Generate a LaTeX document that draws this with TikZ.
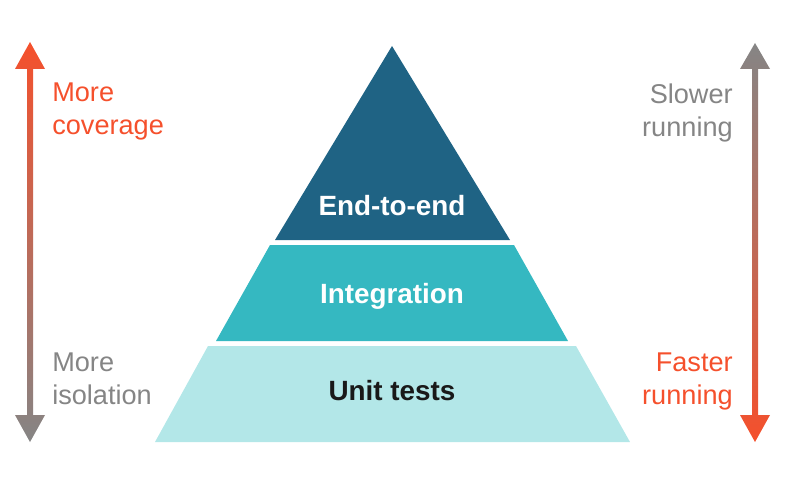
\documentclass[tikz,border=0pt]{standalone}
\usepackage{fontspec}
\setmainfont{Liberation Sans}
\definecolor{hotred}{HTML}{F5502C}
\definecolor{slowgray}{HTML}{858585}
\definecolor{topblue}{HTML}{1F6384}
\definecolor{midteal}{HTML}{35B8C1}
\definecolor{lowteal}{HTML}{B3E7E8}
\begin{document}
\begin{tikzpicture}[x=0.025cm,y=-0.025cm,
  side/.style={inner sep=0pt,font=\fontsize{19.3}{23.4}\selectfont},
  layer/.style={inner sep=0pt,anchor=base,font=\fontsize{19.8}{24}\selectfont\bfseries}]
  \useasboundingbox (0,0) rectangle (800,486);
  % the three layers
  \fill[topblue] (392,46) -- (510,240) -- (275,240) -- cycle;
  \fill[midteal] (270,245) -- (514,245) -- (568,341) -- (216,341) -- cycle;
  \fill[lowteal] (208,346) -- (576,346) -- (630,442) -- (155,442) -- cycle;
  \node[layer,text=white] (e2e) at (392,215) {End-to-end};
  \node[layer,text=white] (integ) at (392,303) {Integration};
  \node[layer,text=black!90] (unit) at (392,400) {Unit tests};
  % side arrows
  \shade[top color=hotred,bottom color=slowgray]
    (30,42) -- (45,69) -- (33,69) -- (33,415) -- (45,415) -- (30,442)
    -- (15,415) -- (27,415) -- (27,69) -- (15,69) -- cycle;
  \shade[top color=slowgray,bottom color=hotred]
    (755,43) -- (770,69) -- (758,69) -- (758,415) -- (770,415) -- (755,442)
    -- (740,415) -- (752,415) -- (752,69) -- (740,69) -- cycle;
  \node[side,text=hotred,align=left,anchor=north west] (cover) at (52,83) {More\\coverage};
  \node[side,text=slowgray,align=left,anchor=north west] (isol) at (52,353) {More\\isolation};
  \node[side,text=slowgray,align=right,anchor=north east] (slow) at (733,84) {Slower\\running};
  \node[side,text=hotred,align=right,anchor=north east] (fast) at (733,353) {Faster\\running};
\end{tikzpicture}
\end{document}
